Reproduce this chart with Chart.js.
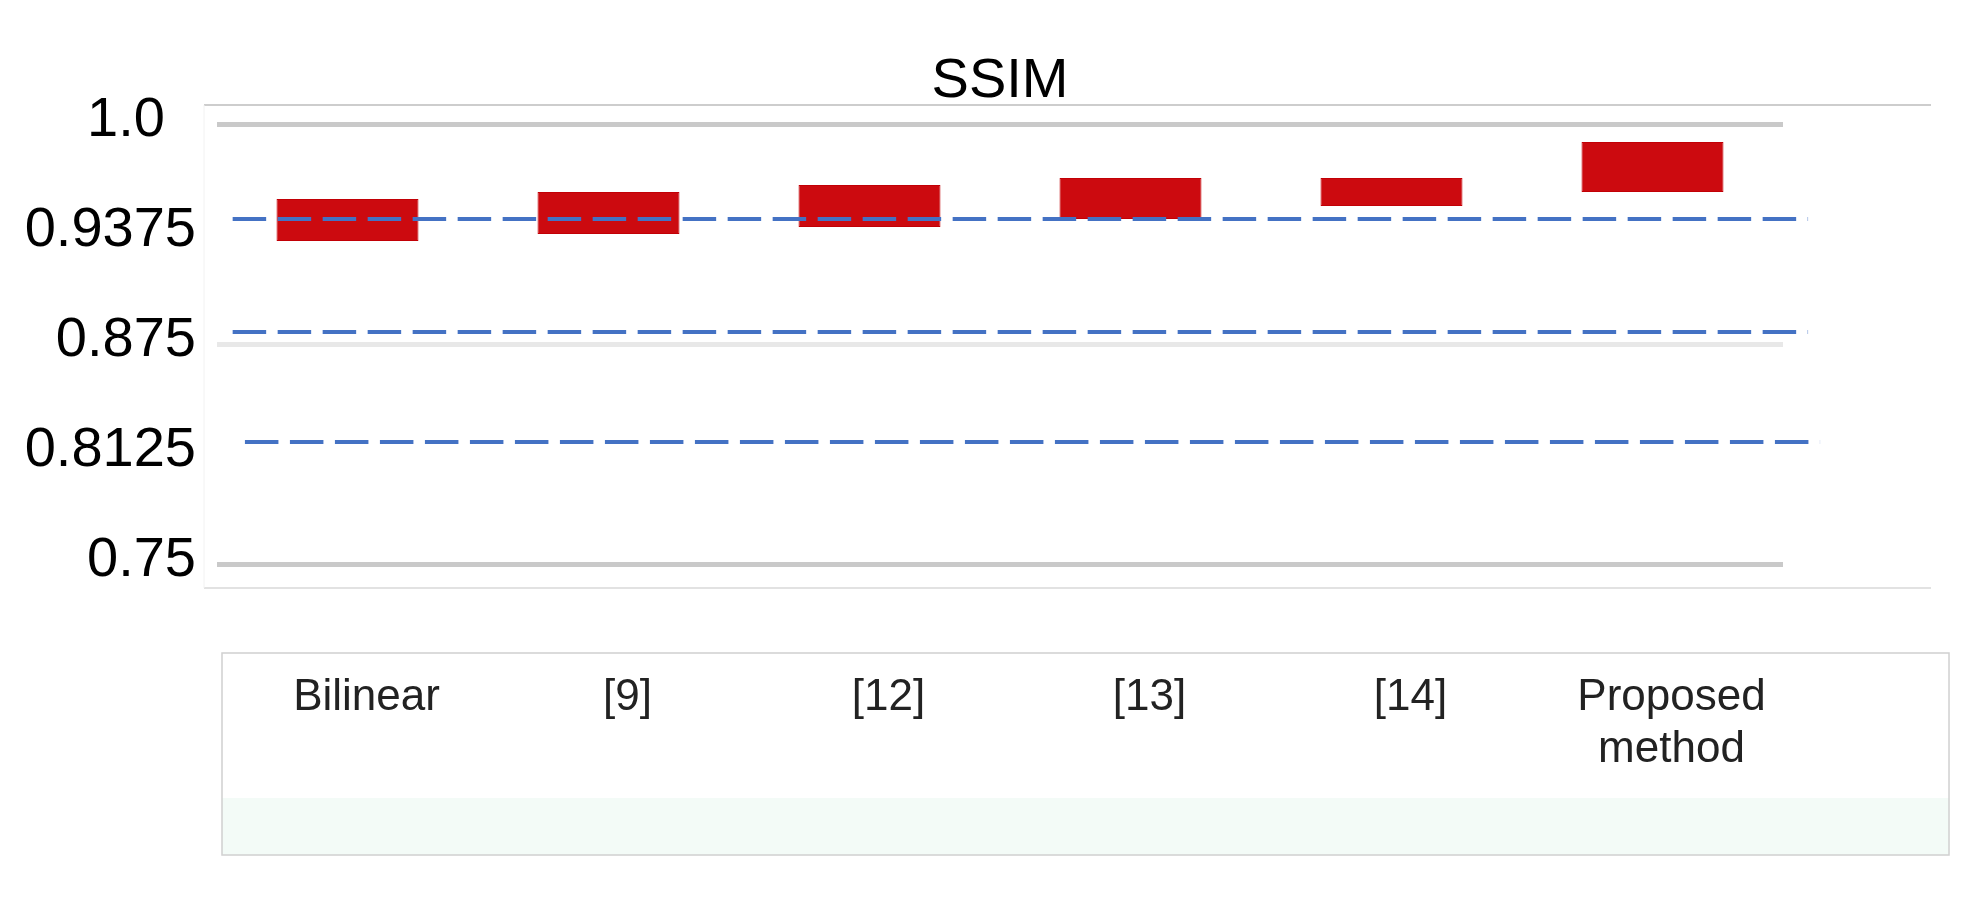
<!DOCTYPE html>
<html>
<head>
<meta charset="utf-8">
<script src="https://cdn.jsdelivr.net/npm/chart.js@4.4.1/dist/chart.umd.min.js"></script>
<style>
  html, body { margin: 0; padding: 0; background: #ffffff; }
  #wrap { position: relative; width: 1985px; height: 908px; }
</style>
</head>
<body>
<div id="wrap"><canvas id="c"></canvas></div>
<script>
// ---- data ----
const categories = ['Bilinear', '[9]', '[12]', '[13]', '[14]', ['Proposed', 'method']];
const ssimLow  = [0.9335, 0.9375, 0.9415, 0.9460, 0.9534, 0.9614];
const ssimHigh = [0.9574, 0.9614, 0.9653, 0.9693, 0.9693, 0.9898];

// dashed reference lines (value, start / end in category units)
const refLineValues = [0.9460, 0.8818, 0.8193];
const refLineStart  = [-0.44, -0.44, -0.393];
const refLineEnd    = [5.596, 5.596, 5.642];

const yTickValues = [0.75, 0.8125, 0.875, 0.9375, 1.0];
const yTickLabels = ['0.75', '0.8125', '0.875', '0.9375', '1.0\u2007'];
const strongGrid = [1.0, 0.75];
const lightGrid = [0.875];

const FONT = "'Liberation Sans', Arial, Helvetica, sans-serif";

const barDataset = {
  type: 'bar',
  label: 'SSIM',
  data: categories.map((c, i) => [ssimLow[i], ssimHigh[i]]),
  backgroundColor: '#cc0a0f',
  borderColor: '#c20006',
  borderWidth: 1,
  borderSkipped: false,
  grouped: false,
  barPercentage: 0.544,
  categoryPercentage: 1.0,
  order: 2
};

const lineDatasets = refLineValues.map((v, i) => ({
  type: 'line',
  label: 'ref' + i,
  xAxisID: 'x2',
  data: [{ x: refLineStart[i], y: v }, { x: refLineEnd[i], y: v }],
  borderColor: '#4472c4',
  borderWidth: 4,
  borderDash: [33.5, 11.5],
  pointRadius: 0,
  fill: false,
  clip: false,
  order: 1
}));

const framePlugin = {
  id: 'frame',
  beforeDraw(chart) {
    const { ctx, chartArea: a } = chart;
    ctx.save();
    // outer plot frame
    const fl = a.left - 13, fr = a.right + 148, ft = a.top - 19, fb = a.bottom + 24;
    ctx.lineWidth = 1.5;
    ctx.strokeStyle = '#bdbdbd';
    ctx.beginPath(); ctx.moveTo(fl, ft); ctx.lineTo(fr, ft); ctx.stroke();
    ctx.strokeStyle = '#d9d9d9';
    ctx.beginPath(); ctx.moveTo(fl, fb); ctx.lineTo(fr, fb); ctx.stroke();
    ctx.lineWidth = 1;
    ctx.strokeStyle = '#f2f2f2';
    ctx.beginPath(); ctx.moveTo(fl, ft); ctx.lineTo(fl, fb); ctx.stroke();
    // category label box
    const bl = a.left + 5, br = a.right + 166, bt = a.bottom + 89, bb = a.bottom + 291, band = a.bottom + 234;
    ctx.fillStyle = '#f3fbf7';
    ctx.fillRect(bl, band, br - bl, bb - band);
    ctx.lineWidth = 1.5;
    ctx.strokeStyle = '#d0d0d0';
    ctx.strokeRect(bl, bt, br - bl, bb - bt);
    ctx.restore();
  }
};

new Chart(document.getElementById('c'), {
  data: {
    labels: categories,
    datasets: [barDataset, ...lineDatasets]
  },
  plugins: [framePlugin],
  options: {
    responsive: true,
    maintainAspectRatio: false,
    animation: false,
    layout: { padding: { left: 0, right: 202, top: 0, bottom: 0 } },
    plugins: {
      legend: { display: false },
      tooltip: { enabled: false },
      title: {
        display: true,
        text: 'SSIM',
        fullSize: false,
        color: '#000000',
        font: { family: FONT, size: 56, weight: 'normal', lineHeight: 1.2 },
        padding: { top: 48, bottom: 8.8 }
      }
    },
    scales: {
      x: {
        type: 'category',
        offset: true,
        grid: { display: false, drawTicks: false },
        border: { display: false },
        ticks: {
          autoSkip: false,
          maxRotation: 0,
          minRotation: 0,
          padding: 108,
          labelOffset: 19,
          color: '#222222',
          font: { family: FONT, size: 44, lineHeight: 1.18 }
        },
        afterFit(scale) { scale.height = 344; }
      },
      x2: {
        type: 'linear',
        display: false,
        min: -0.5,
        max: 5.5
      },
      y: {
        type: 'linear',
        min: 0.75,
        max: 1.0,
        afterBuildTicks(scale) { scale.ticks = yTickValues.map(v => ({ value: v })); },
        ticks: {
          padding: 21,
          labelOffset: -3,
          color: '#000000',
          font: { family: FONT, size: 56 },
          callback(value) {
            const i = yTickValues.indexOf(value);
            return i >= 0 ? yTickLabels[i] : '';
          }
        },
        grid: {
          drawTicks: false,
          lineWidth: 5,
          color(ctx) {
            const v = ctx.tick ? ctx.tick.value : null;
            if (strongGrid.includes(v)) return '#c9c9c9';
            if (lightGrid.includes(v)) return '#e8e8e8';
            return 'rgba(0,0,0,0)';
          }
        },
        border: { display: false },
        afterFit(scale) { scale.width = 217; }
      }
    }
  }
});
</script>
</body>
</html>
